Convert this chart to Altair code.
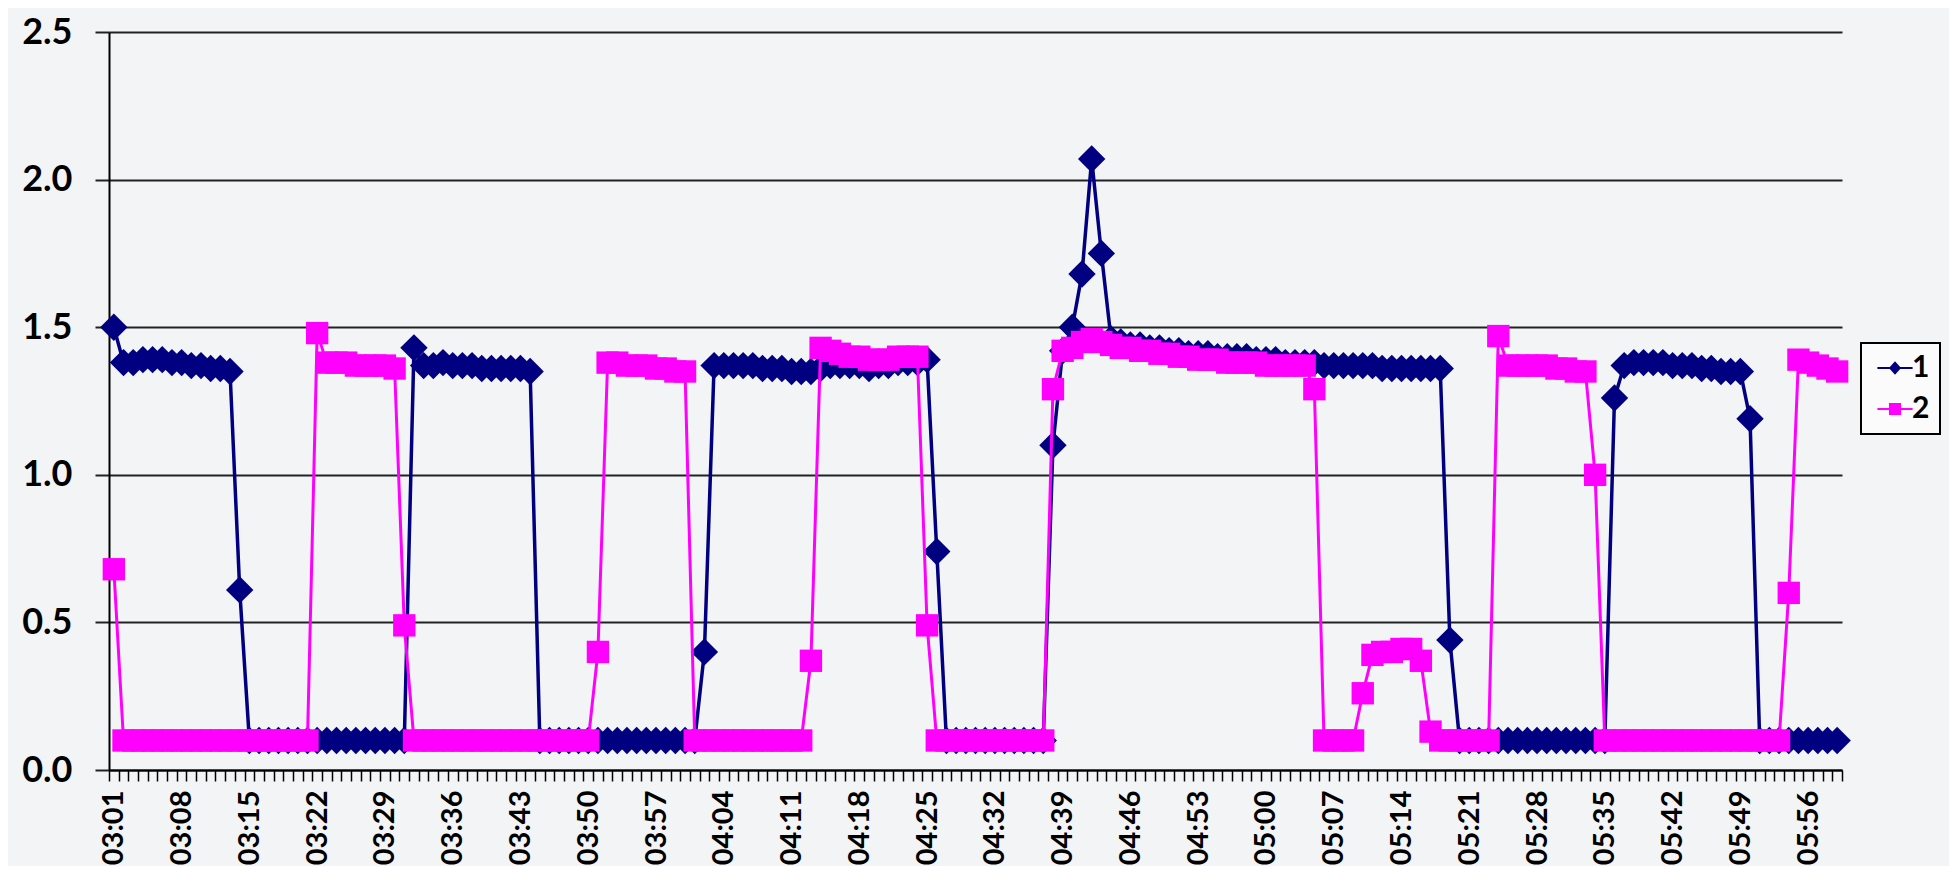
import altair as alt
import pandas as pd

# category labels: one sample per minute, 03:01 .. 05:59
TIMES = [f"{(181 + i) // 60:02d}:{(181 + i) % 60:02d}" for i in range(179)]
TICK_LABELS = ["03:01", "03:08", "03:15", "03:22", "03:29", "03:36", "03:43", "03:50",
               "03:57", "04:04", "04:11", "04:18", "04:25", "04:32", "04:39", "04:46",
               "04:53", "05:00", "05:07", "05:14", "05:21", "05:28", "05:35", "05:42",
               "05:49", "05:56"]
SERIES_NAMES = ["1", "2"]

SERIES1 = (
    [1.50, 1.38, 1.38, 1.39, 1.39, 1.39, 1.38, 1.38, 1.37, 1.37, 1.36, 1.36, 1.35, 0.61]
    + [0.10] * 17
    + [1.43, 1.37, 1.37, 1.38, 1.37, 1.37, 1.37, 1.36, 1.36, 1.36, 1.36, 1.36, 1.35]
    + [0.10] * 17
    + [0.40]
    + [1.37, 1.37, 1.37, 1.37, 1.37, 1.36, 1.36, 1.36, 1.35, 1.35, 1.35, 1.36,
       1.37, 1.37, 1.37, 1.37, 1.36, 1.37, 1.37, 1.38, 1.38, 1.38, 1.39]
    + [0.74]
    + [0.10] * 11
    + [1.10, 1.42, 1.50, 1.68, 2.07, 1.75, 1.46, 1.45, 1.44, 1.44, 1.43, 1.43, 1.42,
       1.42, 1.41, 1.41, 1.41, 1.40, 1.40, 1.40, 1.40, 1.39, 1.39, 1.39, 1.38, 1.38,
       1.38, 1.38, 1.37, 1.37, 1.37, 1.37, 1.37, 1.37, 1.36, 1.36, 1.36, 1.36, 1.36,
       1.36, 1.36]
    + [0.44]
    + [0.10] * 16
    + [1.26, 1.37, 1.38, 1.38, 1.38, 1.38, 1.37, 1.37, 1.37, 1.36, 1.36, 1.35, 1.35, 1.35]
    + [1.19]
    + [0.10] * 9
)

SERIES2 = (
    [0.68]
    + [0.10] * 20
    + [1.48, 1.38, 1.38, 1.38, 1.37, 1.37, 1.37, 1.37, 1.36, 0.49]
    + [0.10] * 19
    + [0.40, 1.38, 1.38, 1.37, 1.37, 1.37, 1.36, 1.36, 1.35, 1.35]
    + [0.10] * 12
    + [0.37, 1.43, 1.42, 1.41, 1.40, 1.40, 1.39, 1.39, 1.39, 1.40, 1.40, 1.40, 0.49]
    + [0.10] * 12
    + [1.29, 1.42, 1.43, 1.45, 1.46, 1.45, 1.44, 1.43, 1.43, 1.42, 1.42, 1.41, 1.41,
       1.40, 1.40, 1.39, 1.39, 1.39, 1.38, 1.38, 1.38, 1.38, 1.37, 1.37, 1.37, 1.37,
       1.37, 1.29]
    + [0.10] * 4
    + [0.26, 0.39, 0.40, 0.40, 0.41, 0.41, 0.37, 0.13]
    + [0.10] * 6
    + [1.47, 1.37, 1.37, 1.37, 1.37, 1.37, 1.36, 1.36, 1.35, 1.35, 1.00]
    + [0.10] * 19
    + [0.60, 1.39, 1.38, 1.37, 1.36, 1.35]
)

NAVY = "#000080"
MAGENTA = "#FF00FF"
FONT = "Lato"

n = len(TIMES)
df = pd.DataFrame({
    "idx": list(range(n)) * 2,
    "time": TIMES * 2,
    "series": [SERIES_NAMES[0]] * n + [SERIES_NAMES[1]] * n,
    "value": SERIES1 + SERIES2,
})

# labels shown every 7th category, ticks at every category boundary
label_arr = [""] * (n + 1)
for i, t in enumerate(TIMES):
    if t in TICK_LABELS:
        label_arr[i] = t
label_expr = "[" + ",".join(f"'{s}'" for s in label_arr) + "][round(datum.value + 0.5)]"

W, H = 1733, 738
step = W / n

x_enc = alt.X(
    "idx:Q",
    scale=alt.Scale(domain=[-0.5, n - 0.5], nice=False, zero=False),
    axis=alt.Axis(
        values=[k - 0.5 for k in range(n + 1)],
        labelExpr=label_expr,
        labelAngle=270,
        labelFont=FONT, labelFontSize=29, labelFontWeight="bold", labelColor="black",
        labelPadding=9, labelOffset=step / 2,
        labelOverlap=False, labelFlush=False, labelBound=False,
        tickSize=11, tickWidth=1.5, tickColor="black",
        domainColor="black", domainWidth=2,
        grid=False, title=None,
    ),
)
y_enc = alt.Y(
    "value:Q",
    scale=alt.Scale(domain=[0, 2.5], nice=False, zero=True),
    axis=alt.Axis(
        values=[0, 0.5, 1.0, 1.5, 2.0, 2.5],
        format=".1f",
        labelFont=FONT, labelFontSize=36, labelFontWeight="bold", labelColor="black",
        labelPadding=23,
        tickSize=14, tickWidth=2, tickColor="#222222",
        domainColor="black", domainWidth=2,
        grid=True, gridColor="#222222", gridWidth=2,
        title=None,
    ),
)

base = alt.Chart(df)

line1 = base.transform_filter(alt.datum.series == SERIES_NAMES[0]).mark_line(
    color=NAVY, strokeWidth=3.5).encode(x=x_enc, y=y_enc)
pts1 = base.transform_filter(alt.datum.series == SERIES_NAMES[0]).mark_point(
    shape="diamond", filled=True, size=750, color=NAVY, opacity=1).encode(x=x_enc, y=y_enc)
line2 = base.transform_filter(alt.datum.series == SERIES_NAMES[1]).mark_line(
    color=MAGENTA, strokeWidth=3).encode(x=x_enc, y=y_enc)
pts2 = base.transform_filter(alt.datum.series == SERIES_NAMES[1]).mark_point(
    shape="square", filled=True, size=500, color=MAGENTA, opacity=1).encode(x=x_enc, y=y_enc)

PATH1 = "M-1.6,-0.1H1.6V0.1H-1.6Z M0,-0.62L0.55,0L0,0.62L-0.55,0Z"
PATH2 = "M-1.6,-0.09H1.6V0.09H-1.6Z M-0.55,-0.55H0.55V0.55H-0.55Z"

leg_props = dict(
    title=None, orient="none", legendX=1752, legendY=311,
    fillColor="#fbfbfb", strokeColor="black", padding=10, rowPadding=11,
    labelFont=FONT, labelFontSize=30, labelFontWeight="bold", labelColor="black",
    symbolSize=484, symbolStrokeWidth=0, symbolOffset=9, labelOffset=2,
)
legend_layer = base.transform_filter("false").mark_point(filled=True, size=484, opacity=1).encode(
    x=x_enc, y=y_enc,
    color=alt.Color("series:N", scale=alt.Scale(domain=SERIES_NAMES, range=[NAVY, MAGENTA]),
                    legend=alt.Legend(**leg_props)),
    shape=alt.Shape("series:N", scale=alt.Scale(domain=SERIES_NAMES, range=[PATH1, PATH2]),
                    legend=alt.Legend(**leg_props)),
)

chart = alt.layer(line1, pts1, line2, pts2, legend_layer).properties(
    width=W, height=H,
    autosize=alt.AutoSizeParams(type="none"),
    padding={"left": 101, "top": 24, "right": 107, "bottom": 96},
    background="#f3f4f6",
).configure_view(stroke=None).configure_legend(strokeWidth=2)

chart.save("out.html", embed_options={"renderer": "svg", "actions": False})
